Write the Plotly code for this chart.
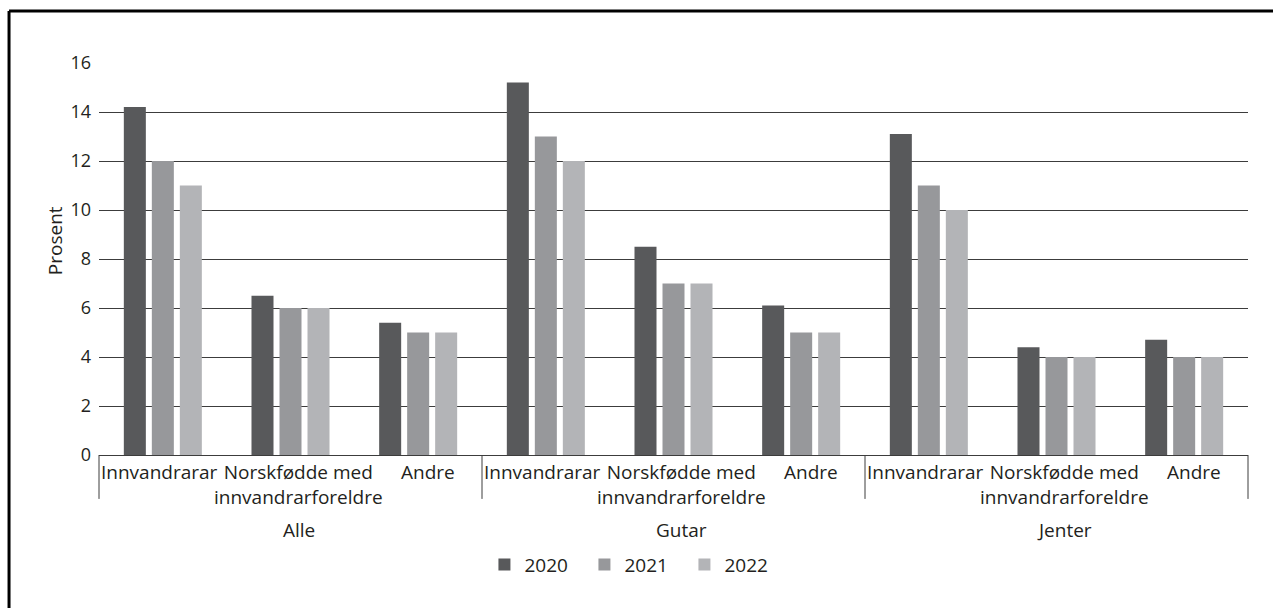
"""Andel i prosent etter gruppe og år (plotly)"""

import plotly.graph_objects as go

# kategoriar
groups = ["Alle", "Gutar", "Jenter"]
subgroups = ["Innvandrarar", "Norskfødde med<br>innvandrarforeldre", "Andre"]
years = ["2020", "2021", "2022"]

# verdiar per år (Alle x3, Gutar x3, Jenter x3)
v2020 = [14.2, 6.5, 5.4, 15.2, 8.5, 6.1, 13.1, 4.4, 4.7]
v2021 = [12, 6, 5, 13, 7, 5, 11, 4, 4]
v2022 = [11, 6, 5, 12, 7, 5, 10, 4, 4]

colors = ["#58595b", "#97989b", "#b3b4b7"]
font = "Open Sans, sans-serif"
txt = "#231f20"
line_col = "#3c3c3c"

# unike kategoriar på x-aksen
cats = [f"{g}|{s}" for g in groups for s in subgroups]

fig = go.Figure()
for year, vals, color in zip(years, [v2020, v2021, v2022], colors):
    fig.add_trace(go.Bar(
        x=cats, y=vals, name=year,
        marker=dict(color=color, line=dict(width=0)),
    ))

fig.update_layout(
    width=1273, height=608,
    margin=dict(l=99, r=25, t=63, b=153, autoexpand=False),
    paper_bgcolor="white", plot_bgcolor="white",
    barmode="group", bargap=0.342, bargroupgap=0.214,
    font=dict(family=font, size=19, color=txt),
    legend=dict(
        orientation="h", x=0.466, xanchor="center", y=-0.28, yanchor="middle",
        font=dict(size=19), traceorder="normal", itemwidth=30, entrywidth=55,
    ),
)

fig.update_yaxes(
    range=[0, 16], dtick=2, showgrid=True, gridcolor=line_col, gridwidth=1,
    zeroline=False, showline=False, ticks="", ticklabelstandoff=7,
    tickfont=dict(size=18), automargin=False,
)
fig.update_xaxes(
    type="category", showticklabels=False,
    showline=True, linecolor=line_col, linewidth=1,
    ticks="", automargin=False,
)

# etikettar for undergrupper (litt forskyvde som i originalen)
sub_shift = [-3, 8, 10]
for i, c in enumerate(cats):
    j = i % len(subgroups)
    fig.add_annotation(
        text=subgroups[j], xref="x", yref="paper", x=c, y=0,
        yanchor="top", yshift=-2, xshift=sub_shift[j],
        showarrow=False, font=dict(size=19),
    )

# gruppenamn under etikettane
for i, g in enumerate(groups):
    fig.add_annotation(
        text=g, xref="x", yref="paper", x=cats[i * len(subgroups) + 1],
        y=-0.191, yanchor="middle", xshift=8, showarrow=False,
        font=dict(size=19),
    )

# Prosent (aksetittel)
fig.add_annotation(
    text="Prosent", textangle=-90, xref="paper", yref="paper",
    x=-0.0383, y=0.548, xanchor="center", yanchor="middle",
    showarrow=False, font=dict(size=19),
)

# skiljelinjer mellom gruppene
for k in range(len(groups) + 1):
    xp = k / len(groups)
    fig.add_shape(type="line", xref="paper", yref="paper",
                  x0=xp, x1=xp, y0=0, y1=-0.112,
                  line=dict(color=line_col, width=1))

# ramme (venstre og topp)
fig.add_shape(type="line", xref="paper", yref="paper",
              x0=-0.0783, x1=-0.0783, y0=-0.5, y1=1.1327,
              line=dict(color="black", width=3))
fig.add_shape(type="line", xref="paper", yref="paper",
              x0=-0.0783, x1=1.1, y0=1.1327, y1=1.1327,
              line=dict(color="black", width=3))

fig.write_html("out.html", config={"displayModeBar": False},
               post_script="document.body.style.margin='0';")
